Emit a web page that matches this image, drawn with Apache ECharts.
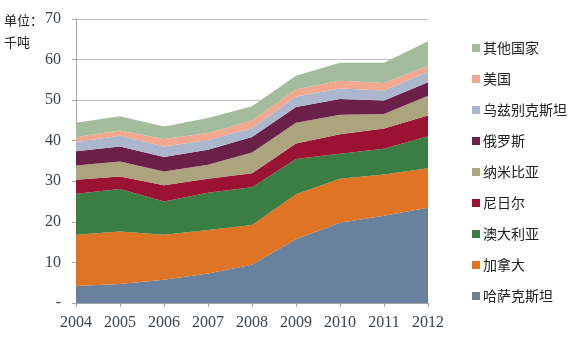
<!DOCTYPE html>
<html>
<head>
<meta charset="utf-8">
<style>
  html, body { margin: 0; padding: 0; background: #fff; }
  #chart { width: 576px; height: 345px; }
</style>
<script src="https://cdn.jsdelivr.net/npm/echarts@6/dist/echarts.min.js"></script>
</head>
<body>
<div id="chart"></div>
<script>
// Uranium production by country, thousand tonnes (stacked)
const years = ['2004', '2005', '2006', '2007', '2008', '2009', '2010', '2011', '2012'];

const kazakhstan = [4.2, 4.7, 5.7, 7.3, 9.4, 15.7, 19.8, 21.5, 23.5];
const canada     = [12.6, 12.9, 11.1, 10.7, 9.8, 11.1, 10.8, 10.2, 9.7];
const australia  = [10.1, 10.5, 8.2, 9.2, 9.3, 8.7, 6.2, 6.3, 7.9];
const niger      = [3.5, 3.1, 4.0, 3.4, 3.5, 3.8, 4.8, 5.0, 5.1];
const namibia    = [3.5, 3.7, 3.4, 3.5, 5.1, 5.1, 4.8, 3.6, 4.9];
const russia     = [3.5, 3.7, 3.6, 3.7, 3.8, 3.9, 3.9, 3.3, 3.3];
const uzbekistan = [2.3, 2.6, 2.6, 2.4, 2.2, 2.6, 2.6, 2.5, 2.6];
const usa        = [1.2, 1.3, 1.8, 1.7, 1.9, 1.8, 1.9, 1.8, 1.5];
const others     = [3.5, 3.5, 3.1, 3.7, 3.5, 3.3, 4.4, 5.0, 6.0];

const yTicks = [0, 10, 20, 30, 40, 50, 60, 70];

const seriesDefs = [
  { name: '哈萨克斯坦', data: kazakhstan, color: '#6A819D' },
  { name: '加拿大', data: canada, color: '#DE7424' },
  { name: '澳大利亚', data: australia, color: '#3B7E43' },
  { name: '尼日尔', data: niger, color: '#9C1233' },
  { name: '纳米比亚', data: namibia, color: '#ACA47F' },
  { name: '俄罗斯', data: russia, color: '#6B2049' },
  { name: '乌兹别克斯坦', data: uzbekistan, color: '#AAB7CD' },
  { name: '美国', data: usa, color: '#F2A78F' },
  { name: '其他国家', data: others, color: '#A3BC9C' }
];

const serif = '"Liberation Serif", "DejaVu Serif", serif';
const cjk = '"Noto Sans CJK SC", sans-serif';
const textColor = '#3A4252';

const chart = echarts.init(document.getElementById('chart'), null, { renderer: 'canvas' });

chart.setOption({
  animation: false,
  backgroundColor: '#ffffff',
  grid: { left: 76, right: 148, top: 19, bottom: 42 },
  legend: {
    orient: 'vertical',
    left: 467,
    top: 36,
    itemWidth: 8,
    itemHeight: 8,
    itemGap: 17,
    icon: 'rect',
    textStyle: { fontFamily: cjk, fontSize: 14, color: '#222', padding: [0, 0, 0, -2] },
    data: seriesDefs.map(s => s.name).reverse()
  },
  graphic: [
    { type: 'text', left: 4, top: 14, style: { text: '单位：', font: '13px ' + cjk, fill: '#222' } },
    { type: 'text', left: 4, top: 36, style: { text: '千吨', font: '13px ' + cjk, fill: '#222' } }
  ],
  xAxis: {
    type: 'category',
    data: years,
    boundaryGap: false,
    axisLine: { lineStyle: { color: '#A6A6A6', width: 1 } },
    axisTick: { show: true, length: 4, lineStyle: { color: '#A6A6A6' } },
    axisLabel: { fontFamily: serif, fontSize: 16, color: textColor, margin: 12 }
  },
  yAxis: {
    type: 'value',
    min: yTicks[0],
    max: yTicks[yTicks.length - 1],
    interval: 10,
    axisLine: { show: true, lineStyle: { color: '#A6A6A6', width: 1 } },
    axisTick: { show: true, length: 4, lineStyle: { color: '#A6A6A6' } },
    splitLine: { show: true, lineStyle: { color: '#BDBDBD', width: 1 } },
    axisLabel: {
      fontFamily: serif, fontSize: 16, color: textColor, margin: 15,
      formatter: v => (v === 0 ? '-' : String(v))
    }
  },
  series: seriesDefs.map(s => ({
    name: s.name,
    type: 'line',
    stack: 'total',
    data: s.data,
    symbol: 'none',
    showSymbol: false,
    lineStyle: { width: 0 },
    itemStyle: { color: s.color },
    areaStyle: { color: s.color, opacity: 1 },
    z: 3
  }))
});
</script>
</body>
</html>
